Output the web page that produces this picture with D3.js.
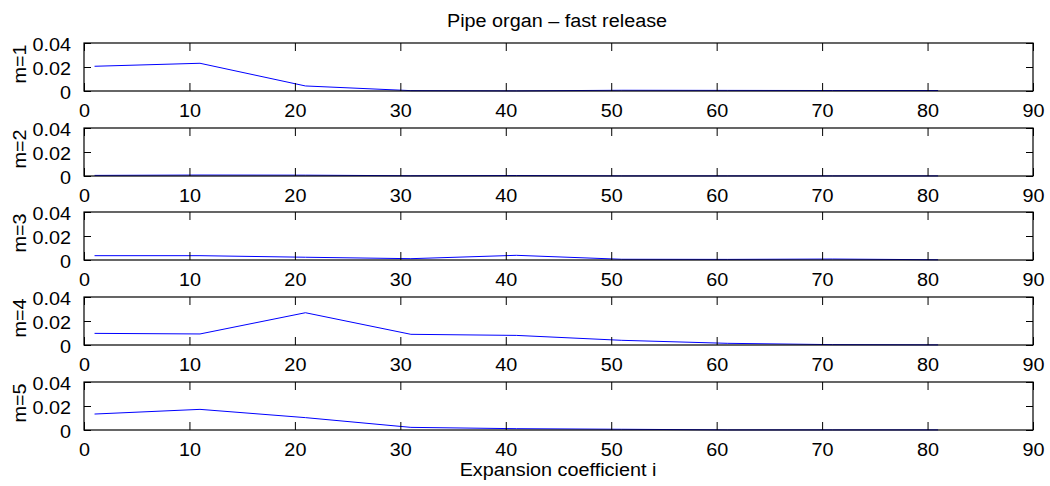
<!doctype html>
<html lang="en">
  <head>
    <meta charset="utf-8">
    <title>Pipe organ - fast release</title>
    <style>
      body { margin: 0; background: #fff; }
      svg text { font-family: "Liberation Sans", Arial, sans-serif; fill: #000; }
    </style>
  </head>
  <body>
    <script src="https://cdn.jsdelivr.net/npm/d3@7"></script>
    <script>
      // expansion coefficient index (x) and one series per mode m
      var coeffs = [1, 11, 21, 31, 41, 51, 61, 71, 81];
      var modes  = ["m=1", "m=2", "m=3", "m=4", "m=5"];

      var m1 = [0.0206, 0.0231, 0.0042, 0.0003, 0.0001, 0.0006, 0.0005, 0.0004, 0.0004];
      var m2 = [0.0005, 0.0008, 0.0007, 0.0002, 0.0004, 0.0001, 0.0001, 0.0001, 0.0001];
      var m3 = [0.0036, 0.0036, 0.0023, 0.0011, 0.0039, 0.0006, 0.0005, 0.0008, 0.0002];
      var m4 = [0.0097, 0.0092, 0.0269, 0.0089, 0.0080, 0.0039, 0.0014, 0.0003, 0.0001];
      var m5 = [0.0133, 0.0172, 0.0103, 0.0022, 0.0011, 0.0006, 0.0001, 0.0001, 0.0001];
      var series = [m1, m2, m3, m4, m5];

      var xTicks = [0, 10, 20, 30, 40, 50, 60, 70, 80, 90];
      var yTicks = [0, 0.02, 0.04];

      var W = 1050, H = 486;
      var left = 84, right = 1033;
      var panelTop = [43, 128, 212, 297, 382],
          panelH = 48;
      var fs = 18;

      var svg = d3.select("body").append("svg")
        .attr("width", W)
        .attr("height", H);

      var x = d3.scaleLinear().domain([0, 90]).range([left, right]);

      series.forEach(function(vals, k) {
        var top = panelTop[k];
        var y = d3.scaleLinear().domain([0, 0.04]).range([top + panelH, top]);
        var g = svg.append("g");

        // data line
        var line = d3.line()
          .x(function(d, i){ return x(coeffs[i]); })
          .y(function(d){ return y(d); });
        g.append("path")
          .datum(vals)
          .attr("d", line)
          .attr("fill", "none")
          .attr("stroke", "#0000ff")
          .attr("stroke-width", 1);

        // inward ticks, matlab style
        var bottomAx = d3.axisBottom(x).tickValues(xTicks).tickSize(-8).tickPadding(13)
          .tickFormat(d3.format("d"));
        var topAx = d3.axisTop(x).tickValues(xTicks).tickSize(-8).tickFormat("");
        var leftAx = d3.axisLeft(y).tickValues(yTicks).tickSize(-7).tickPadding(13)
          .tickFormat(function(d){ return d === 0 ? "0" : d3.format(".2f")(d); });
        var rightAx = d3.axisRight(y).tickValues(yTicks).tickSize(-7).tickFormat("");

        g.append("g").attr("transform", "translate(0," + (top + panelH) + ")").call(bottomAx);
        g.append("g").attr("transform", "translate(0," + top + ")").call(topAx);
        var gl = g.append("g").attr("transform", "translate(" + left + ",0)").call(leftAx);
        g.append("g").attr("transform", "translate(" + right + ",0)").call(rightAx);

        gl.selectAll(".tick text").attr("y", 2);

        g.selectAll(".domain").remove();
        g.selectAll(".tick line").attr("stroke", "#000");
        g.selectAll(".tick text").attr("font-size", fs)
          .attr("font-family", "Liberation Sans, Arial, sans-serif");

        g.append("rect")
          .attr("x", left).attr("y", top)
          .attr("width", right - left).attr("height", panelH)
          .attr("fill", "none").attr("stroke", "#000").attr("stroke-width", 1.2);

        g.append("text")
          .attr("transform", "translate(26," + (top + panelH / 2 - 3) + ") rotate(-90)")
          .attr("text-anchor", "middle")
          .attr("font-size", fs)
          .text(modes[k]);
      });

      svg.append("text")
        .attr("x", 557).attr("y", 27)
        .attr("text-anchor", "middle")
        .attr("font-size", fs)
        .text("Pipe organ \u2013 fast release");

      svg.append("text")
        .attr("x", 558).attr("y", 476)
        .attr("text-anchor", "middle")
        .attr("font-size", fs)
        .text("Expansion coefficient i");

      // the reference font is a bit wider than Liberation Sans: stretch horizontally
      svg.selectAll("text").each(function() {
        var len = this.getComputedTextLength();
        if (len > 0) {
          d3.select(this)
            .attr("textLength", len * 1.1)
            .attr("lengthAdjust", "spacingAndGlyphs");
        }
      });
    </script>
  </body>
</html>
